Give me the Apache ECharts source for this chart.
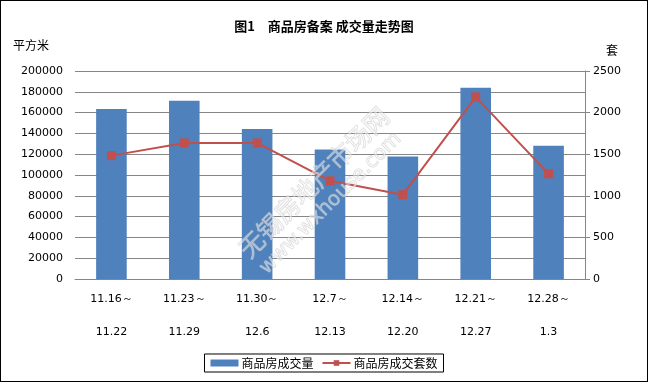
<!DOCTYPE html>
<html><head><meta charset="utf-8">
<script src="https://cdn.jsdelivr.net/npm/echarts@6/dist/echarts.min.js"></script>
<style>
html,body{margin:0;padding:0;background:#fff;}
#c{position:absolute;left:0;top:0;width:646px;height:380px;border:1px solid #000;}
</style></head>
<body><div id="c"></div>
<script>
const categories = ['11.16～\n\n11.22','11.23～\n\n11.29','11.30～\n\n12.6','12.7～\n\n12.13','12.14～\n\n12.20','12.21～\n\n12.27','12.28～\n\n1.3'];
const areaValues = [163500, 171300, 144200, 124400, 117700, 184000, 128200];
const unitValues = [1483, 1635, 1635, 1180, 1013, 2189, 1264];
const seriesNames = ['商品房成交量', '商品房成交套数'];
const titleText = '图1　商品房备案 成交量走势图';

const chart = echarts.init(document.getElementById('c'));
const font = '"DejaVu Sans", sans-serif';
const cjk = '"Noto Sans CJK SC", sans-serif';
const wm = {fill: 'rgba(255,255,255,0.45)', stroke: 'rgba(185,185,185,0.55)', lineWidth: 1, textVerticalAlign: 'middle'};
chart.setOption({
  animation: false,
  title: {
    text: titleText, left: 'center', top: 14,
    textStyle: {fontSize: 13, fontWeight: 'bold', fontFamily: cjk, color: '#000'}
  },
  graphic: [
    {type: 'text', left: 12, top: 38, style: {text: '平方米', font: '12px "Noto Sans CJK SC"', fill: '#000'}},
    {type: 'text', left: 605, top: 43, style: {text: '套', font: '12px "Noto Sans CJK SC"', fill: '#000'}},
    {type: 'text', x: 242, y: 252, rotation: Math.PI/4, z: 10, style: Object.assign({text: '无锡房地产市场网', font: '25px "Noto Sans CJK SC"'}, wm)},
    {type: 'text', x: 262, y: 270, rotation: Math.PI/4, z: 10, style: Object.assign({text: 'www.wxhouse.com', font: '20px "DejaVu Sans"'}, wm)}
  ],
  legend: {
    bottom: 9, left: 'center',
    data: [{name: seriesNames[0], icon: 'rect'}, {name: seriesNames[1]}],
    itemWidth: 28, itemHeight: 7, itemGap: 8,
    borderColor: '#000', borderWidth: 1, padding: [3, 6, 3, 6], borderRadius: 0,
    textStyle: {fontSize: 12, fontFamily: cjk, color: '#000', padding: [0, 0, 0, -2]}
  },
  grid: {left: 74, right: 62, top: 70, bottom: 102},
  xAxis: {
    type: 'category', data: categories,
    axisLine: {lineStyle: {color: '#868686'}},
    axisTick: {show: false},
    axisLabel: {color: '#000', fontSize: 11, fontFamily: font, lineHeight: 16.5, margin: 12, interval: 0}
  },
  yAxis: [
    {
      type: 'value', min: 0, max: 200000, interval: 20000,
      axisLine: {show: false}, axisTick: {show: false},
      splitLine: {lineStyle: {color: '#868686', width: 1}},
      axisLabel: {color: '#000', fontSize: 11, fontFamily: font, margin: 12, formatter: v => String(v)}
    },
    {
      type: 'value', min: 0, max: 2500, interval: 500,
      axisLine: {show: true, lineStyle: {color: '#868686'}},
      axisTick: {show: true, length: 5, lineStyle: {color: '#868686'}},
      splitLine: {show: false},
      axisLabel: {color: '#000', fontSize: 11, fontFamily: font, margin: 8, formatter: v => String(v)}
    }
  ],
  series: [
    {
      name: seriesNames[0], type: 'bar', data: areaValues, barWidth: '42%',
      itemStyle: {color: '#4F81BD'}
    },
    {
      name: seriesNames[1], type: 'line', yAxisIndex: 1, data: unitValues,
      symbol: 'rect', symbolSize: 9,
      lineStyle: {color: '#C0504D', width: 2},
      itemStyle: {color: '#C0504D'}
    }
  ]
});
</script></body></html>
